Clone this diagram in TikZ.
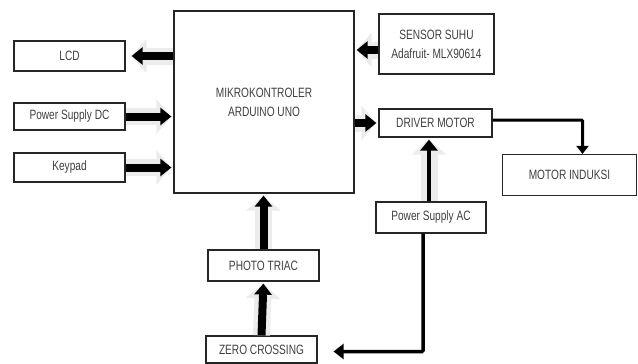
\documentclass[tikz,border=0pt]{standalone}
\usepackage{fontspec}
\setmainfont[FakeStretch=0.75]{Liberation Sans}
\usetikzlibrary{arrows.meta, calc}
\tikzset{
  blok/.style={draw=black!85, line width=1.2pt, fill=white, inner sep=1pt, align=center,
    font=\fontsize{13.5}{19}\selectfont, text=black!75},
  panah/.style={-{Triangle[length=11pt,width=17pt]}, line width=8pt, black, shorten >=2pt,
    preaction={draw=gray!15, line width=17pt, -{Triangle[length=15pt,width=34pt]}}},
  garis/.style={-{Triangle[length=8pt,width=12pt]}, line width=3pt, black},
}
\begin{document}
\begin{tikzpicture}[x=1pt, y=-1pt]
  \useasboundingbox (0,0) rectangle (638,364);
  % blok diagram
  \node[blok, minimum width=180pt, minimum height=182pt] (mcu) at (264,102) {MIKROKONTROLER\\ARDUINO UNO};
  \node[blok, minimum width=111pt, minimum height=30pt] (lcd) at (69.5,56) {LCD};
  \node[blok, minimum width=111pt, minimum height=27pt] (psdc) at (69.5,116.5) {Power Supply DC};
  \node[blok, minimum width=111pt, minimum height=29pt] (keypad) at (69.5,167.5) {Keypad};
  \node[blok, minimum width=115pt, minimum height=60pt] (sensor) at (436.5,44) {SENSOR SUHU\\Adafruit- MLX90614};
  \node[blok, minimum width=113pt, minimum height=28pt] (driver) at (435.5,123) {DRIVER MOTOR};
  \node[blok, minimum width=134pt, minimum height=41pt] (motor) at (569.5,175) {MOTOR INDUKSI};
  \node[blok, minimum width=110pt, minimum height=31pt] (psac) at (431,217.5) {Power Supply AC};
  \node[blok, minimum width=111pt, minimum height=31pt] (triac) at (263.5,265.5) {PHOTO TRIAC};
  \node[blok, minimum width=111pt, minimum height=27pt] (zero) at (261.5,349.5) {ZERO CROSSING};
  % panah
  \draw[panah, shorten >=6pt] (mcu.west |- lcd.east) -- (lcd.east);
  \draw[panah] (psdc.east) -- (mcu.west |- psdc.east);
  \draw[panah] (keypad.east) -- (mcu.west |- keypad.east);
  \draw[panah] ([yshift=-6pt]sensor.west) -- ([yshift=-6pt]mcu.east |- sensor.west);
  \draw[panah] (mcu.east |- driver.west) -- (driver.west);
  \draw[panah] (triac.north) -- (triac.north |- mcu.south);
  \draw[panah] (zero.north) -- (triac.south);
  \draw[panah, line width=4.5pt] ([xshift=-2pt]psac.north) -- ([xshift=-2pt]psac.north |- driver.south);
  \draw[garis, rounded corners=1pt] ([yshift=3pt]driver.east) -| ([xshift=13pt]motor.north);
  \draw[garis, line width=3.5pt, shorten >=16pt, rounded corners=1pt,
    -{Triangle[length=10pt,width=15pt]}] ([xshift=-8pt]psac.south) |- ([yshift=-2pt]zero.east);
\end{tikzpicture}
\end{document}
